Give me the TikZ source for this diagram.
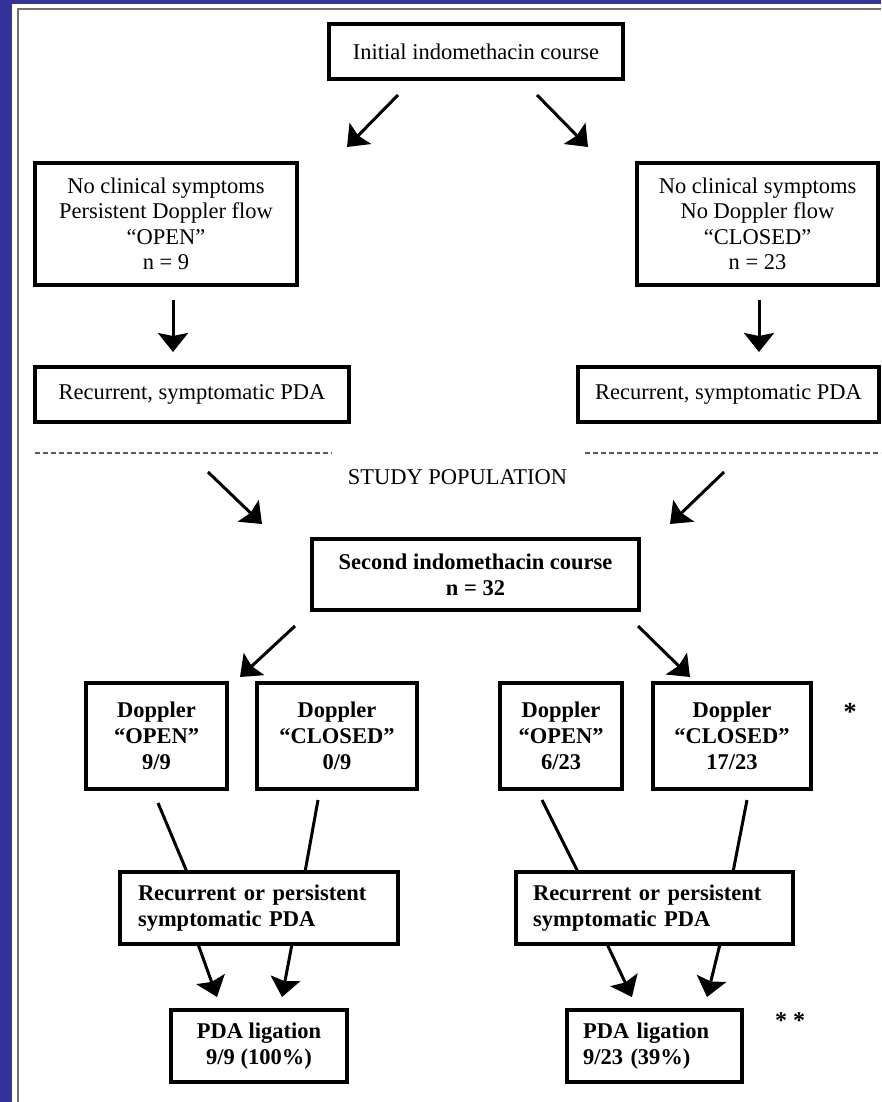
\documentclass[tikz,border=0pt]{standalone}
\usepackage{fontspec}
\setmainfont{Liberation Serif}
\usetikzlibrary{arrows.meta}
\definecolor{bgblue}{HTML}{333399}
\begin{document}
\begin{tikzpicture}[x=1pt,y=-1pt,
  txt/.style={font=\fontsize{22.5}{25.5}\selectfont},
  bx/.style={draw, line width=3.4pt, inner sep=0pt, align=center, font=\fontsize{22.5}{25.5}\selectfont},
  bb/.style={bx, font=\fontsize{22.5}{26}\selectfont\bfseries},
  arr/.style={line width=3pt, -{Stealth[length=19pt,width=30pt,inset=3pt]}},
  ln/.style={line width=3pt},
  dsh/.style={line width=1.2pt, black!65, dash pattern=on 5pt off 3pt}]
\useasboundingbox (0,0) rectangle (881,1102);
\fill[bgblue] (0,0) rectangle (881,1102);
\fill[white] (12,4) rectangle (881,1102);
\draw[black!55, line width=1.5pt] (18,1102) -- (18,9) -- (881,9);

% top part
\node[bx, minimum width=294pt, minimum height=55pt] (init) at (476,51.5) {Initial indomethacin course};
\node[bx, minimum width=262pt, minimum height=122pt] (open1) at (166,224) {No clinical symptoms\\Persistent Doppler flow\\“OPEN”\\n = 9};
\node[bx, minimum width=241pt, minimum height=122pt] (closed1) at (757.5,224) {No clinical symptoms\\No Doppler flow\\“CLOSED”\\n = 23};
\node[bx, minimum width=314pt, minimum height=55pt] (rec1L) at (192,394.5) {Recurrent, symptomatic PDA};
\node[bx, minimum width=301pt, minimum height=55pt] (rec1R) at (728.5,394.5) {Recurrent, symptomatic PDA};

\coordinate (a1s) at (398,95);  \coordinate (a1e) at (347,147);
\coordinate (a2s) at (537,95);  \coordinate (a2e) at (588,147);
\coordinate (a3s) at (173,300); \coordinate (a3e) at (173,352);
\coordinate (a4s) at (759,300); \coordinate (a4e) at (759,352);
\draw[arr] (a1s) -- (a1e);
\draw[arr] (a2s) -- (a2e);
\draw[arr] (a3s) -- (a3e);
\draw[arr] (a4s) -- (a4e);

% separator
\coordinate (dl1) at (35,453);  \coordinate (dl2) at (332,453);
\coordinate (dr1) at (585,453); \coordinate (dr2) at (881,453);
\draw[dsh] (dl1) -- (dl2);
\draw[dsh] (dr1) -- (dr2);
\node[txt, inner sep=0pt] (study) at (457.5,477) {STUDY POPULATION};

% study part
\node[bb, minimum width=327pt, minimum height=71pt] (second) at (475.5,574.5) {Second indomethacin course\\n = 32};
\coordinate (a5s) at (208,472); \coordinate (a5e) at (262,524);
\coordinate (a6s) at (724,472); \coordinate (a6e) at (670,524);
\draw[arr] (a5s) -- (a5e);
\draw[arr] (a6s) -- (a6e);

\node[bb, minimum width=141pt, minimum height=106pt] (d1) at (156.5,736) {Doppler\\“OPEN”\\9/9};
\node[bb, minimum width=160pt, minimum height=106pt] (d2) at (337,736) {Doppler\\“CLOSED”\\0/9};
\node[bb, minimum width=122pt, minimum height=106pt] (d3) at (561,736) {Doppler\\“OPEN”\\6/23};
\node[bb, minimum width=158pt, minimum height=106pt] (d4) at (732,736) {Doppler\\“CLOSED”\\17/23};
\node[txt, font=\fontsize{26}{26}\selectfont\bfseries, anchor=north, inner sep=0pt] (ast1) at (850,703) {*};

\coordinate (a7s) at (295,626); \coordinate (a7e) at (240,677);
\coordinate (a8s) at (638,626); \coordinate (a8e) at (690,677);
\draw[arr] (a7s) -- (a7e);
\draw[arr] (a8s) -- (a8e);

\node[bb, minimum width=278pt, minimum height=72pt, text width=242pt, align=left] (rec2L) at (259,908) {Recurrent or persistent\\symptomatic PDA};
\node[bb, minimum width=277pt, minimum height=72pt, text width=243pt, align=left] (rec2R) at (654.5,908) {Recurrent or persistent\\symptomatic PDA};

\coordinate (l1s) at (158,803); \coordinate (l1e) at (187,872);
\coordinate (l2s) at (318,800); \coordinate (l2e) at (305,872);
\coordinate (l3s) at (542,800); \coordinate (l3e) at (578,872);
\coordinate (l4s) at (747,800); \coordinate (l4e) at (733,872);
\draw[ln] (l1s) -- (l1e);
\draw[ln] (l2s) -- (l2e);
\draw[ln] (l3s) -- (l3e);
\draw[ln] (l4s) -- (l4e);

\node[bb, minimum width=176pt, minimum height=72pt] (ligL) at (259,1046) {PDA ligation\\9/9 (100\%)};
\node[bb, minimum width=175pt, minimum height=72pt, text width=143pt, align=left] (ligR) at (654.5,1046) {PDA ligation\\9/23 (39\%)};
\node[txt, font=\fontsize{24}{24}\selectfont\bfseries, anchor=north, inner sep=0pt] (ast2) at (790,1012) {*\kern6pt*};

\coordinate (a9s) at (198,944);  \coordinate (a9e) at (217,997);
\coordinate (a10s) at (292,944); \coordinate (a10e) at (282,997);
\coordinate (a11s) at (607,944); \coordinate (a11e) at (632,997);
\coordinate (a12s) at (720,944); \coordinate (a12e) at (707,997);
\draw[arr] (a9s) -- (a9e);
\draw[arr] (a10s) -- (a10e);
\draw[arr] (a11s) -- (a11e);
\draw[arr] (a12s) -- (a12e);
\end{tikzpicture}
\end{document}
